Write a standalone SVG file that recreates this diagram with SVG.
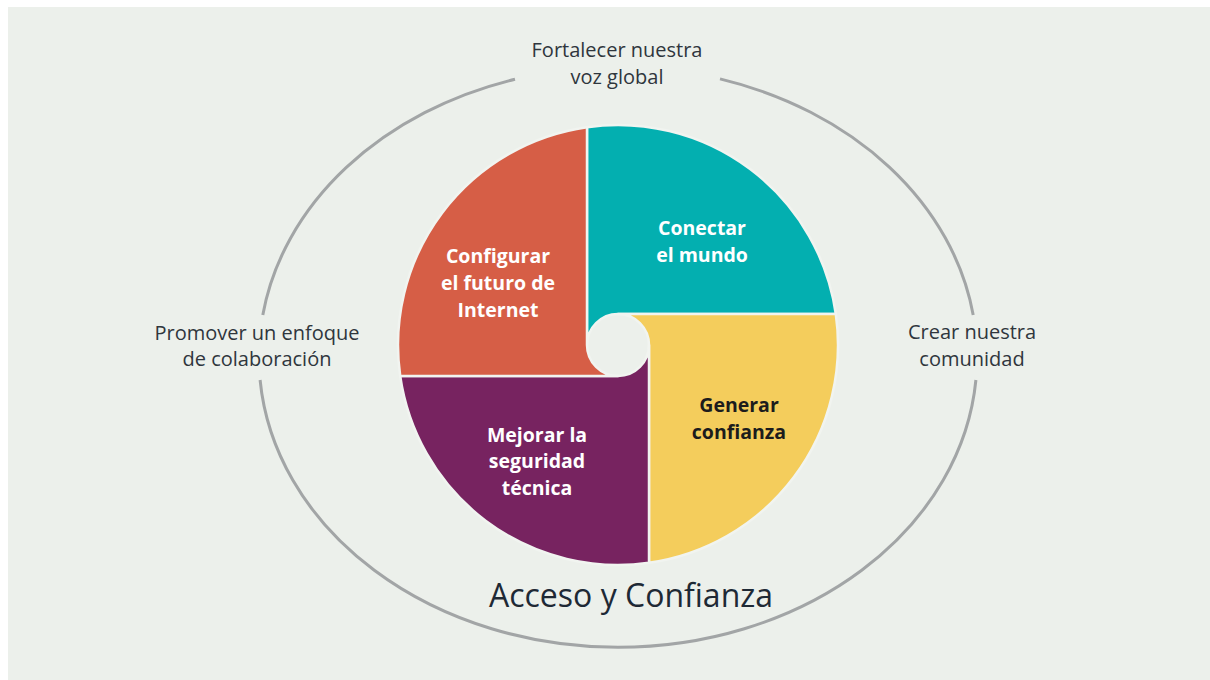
<svg xmlns="http://www.w3.org/2000/svg" width="1210" height="680" viewBox="0 0 1210 680">
<style>
.outer{font-family:"Open Sans","Noto Sans","Liberation Sans",sans-serif;font-size:20px;fill:#2f363d;text-anchor:middle}
.title{font-family:"Open Sans","Noto Sans","Liberation Sans",sans-serif;font-size:32px;fill:#1e2935;text-anchor:middle}
.lbl{font-family:"Open Sans","Noto Sans","Liberation Sans",sans-serif;font-size:19.5px;font-weight:bold;fill:#ffffff;text-anchor:middle}
.seg{stroke:#f1f4f0;stroke-width:2.5;stroke-linejoin:round}
.ring{fill:none;stroke:#a2a5a6;stroke-width:3;stroke-linecap:butt}
</style>
<rect x="0" y="0" width="1210" height="680" fill="#ffffff"/>
<rect x="8" y="7" width="1202" height="673" fill="#ecf0eb"/>
<g id="connectors">
<path class="ring" d="M515,79.2 A359,290 0 0 0 262.8,315"/>
<path class="ring" d="M260.1,380 A359,290 0 0 0 975.9,380"/>
<path class="ring" d="M973.2,315 A359,290 0 0 0 720,78.9"/>
</g>
<g id="node-conectar">
<path class="seg" fill="#03afb0" d="M587,127.2 A220,220 0 0 1 835.8,314 L618,314 A31,31 0 0 0 587,345 Z"/>
<text class="lbl" x="702" y="235">Conectar</text>
<text class="lbl" x="702" y="262">el mundo</text>
</g>
<g id="node-generar">
<path class="seg" fill="#f4cd5c" d="M835.8,314 A220,220 0 0 1 649,562.8 L649,345 A31,31 0 0 0 618,314 Z"/>
<text class="lbl" x="739" y="412" style="fill:#1c1c1c">Generar</text>
<text class="lbl" x="739" y="439" style="fill:#1c1c1c">confianza</text>
</g>
<g id="node-mejorar">
<path class="seg" fill="#772360" d="M649,562.8 A220,220 0 0 1 400.2,376 L618,376 A31,31 0 0 0 649,345 Z"/>
<text class="lbl" x="537" y="442">Mejorar la</text>
<text class="lbl" x="537" y="468">seguridad</text>
<text class="lbl" x="537" y="495">técnica</text>
</g>
<g id="node-configurar">
<path class="seg" fill="#d65e46" d="M400.2,376 A220,220 0 0 1 587,127.2 L587,345 A31,31 0 0 0 618,376 Z"/>
<text class="lbl" x="498" y="263">Configurar</text>
<text class="lbl" x="498" y="290">el futuro de</text>
<text class="lbl" x="498" y="317">Internet</text>
</g>
<g id="node-fortalecer">
<text class="outer" x="617" y="57">Fortalecer nuestra</text>
<text class="outer" x="617" y="84">voz global</text>
</g>
<g id="node-promover">
<text class="outer" x="257" y="340">Promover un enfoque</text>
<text class="outer" x="257" y="366">de colaboración</text>
</g>
<g id="node-crear">
<text class="outer" x="972" y="339">Crear nuestra</text>
<text class="outer" x="972" y="366">comunidad</text>
</g>
<g id="node-acceso">
<text class="title" x="631" y="607">Acceso y Confianza</text>
</g>
</svg>
